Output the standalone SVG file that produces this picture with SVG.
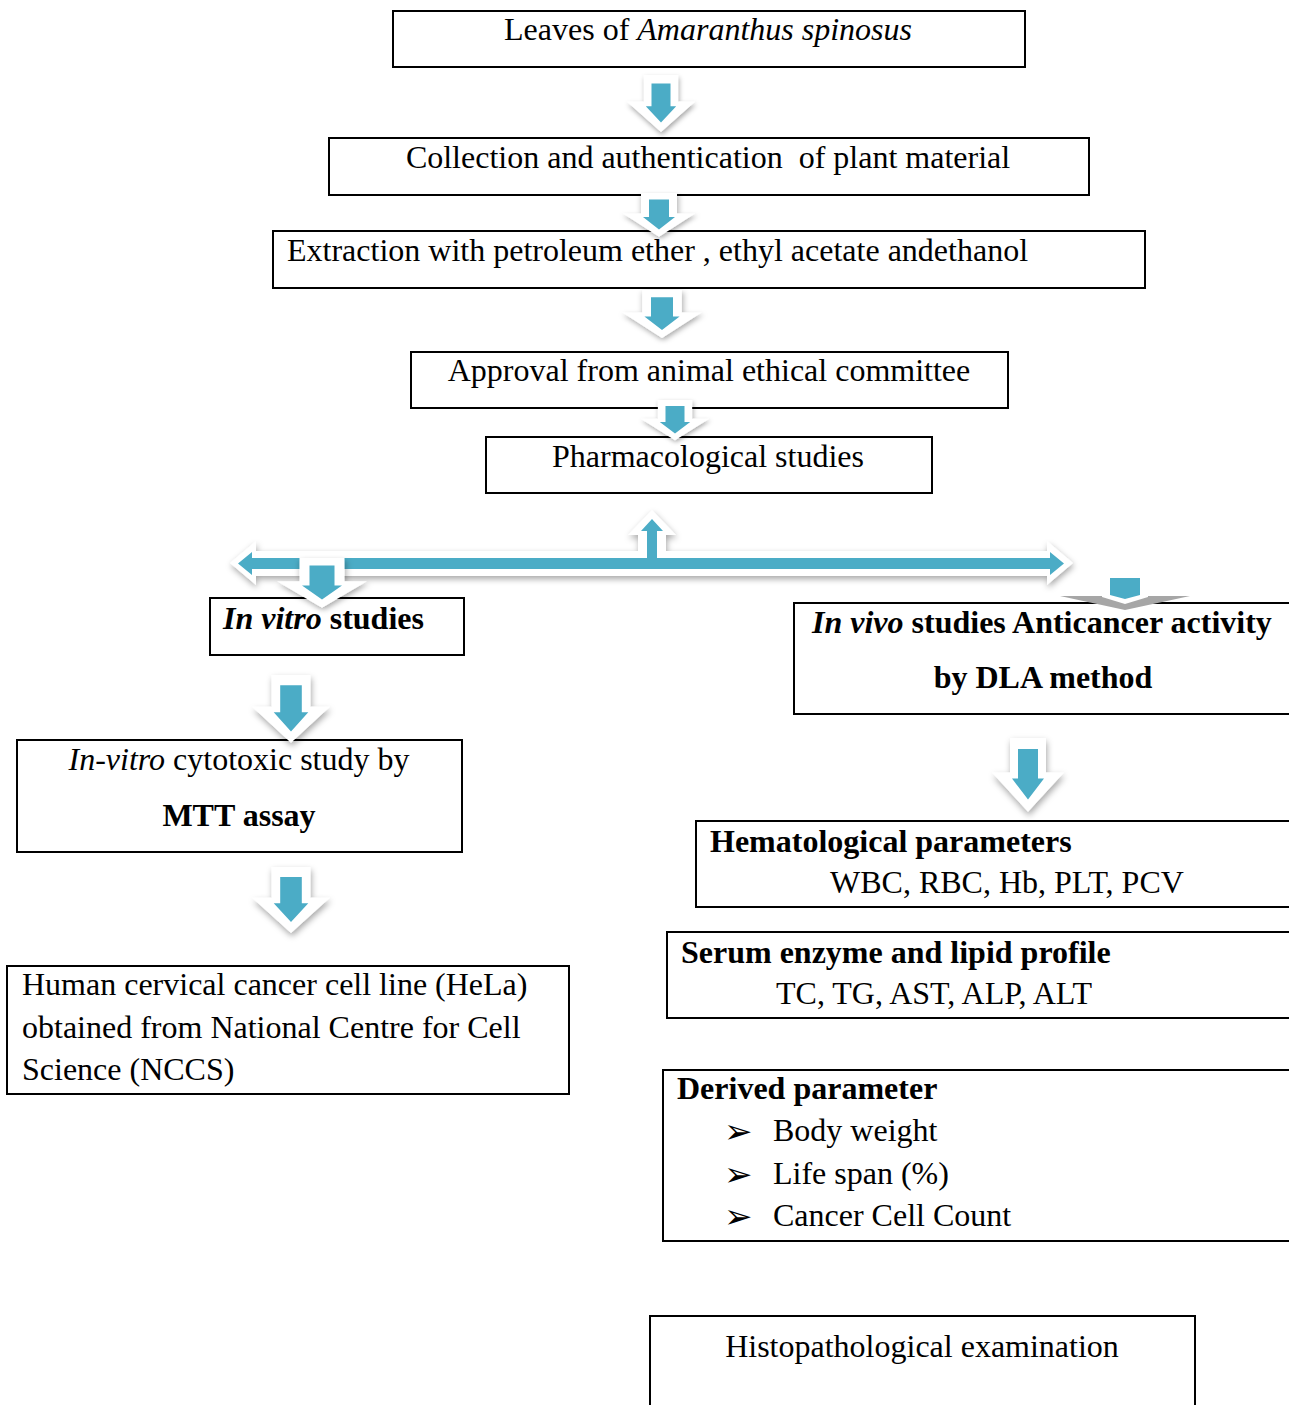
<svg xmlns="http://www.w3.org/2000/svg" width="1289" height="1405" viewBox="0 0 1289 1405">
<style>
.box{fill:#fff;stroke:#000;stroke-width:2}
text{font-family:"Liberation Serif","Times New Roman",serif;font-size:32px;fill:#000}
.b{font-weight:bold}
.i{font-style:italic}
.c{text-anchor:middle}
.bul{font-family:"DejaVu Sans",sans-serif;font-size:34px}
.outer{fill:#fff;filter:url(#sh)}
.inner{fill:#4bacc6}
</style>
<defs>
<filter id="sh" x="-30%" y="-30%" width="160%" height="160%">
<feDropShadow dx="1" dy="3" stdDeviation="3" flood-color="#000" flood-opacity="0.35"/>
</filter>
<g id="arr">
<path class="outer" d="M-18,0 H18 V28 H36 L0,60 L-36,28 H-18 Z"/>
<path class="inner" d="M-10,9 H10 V33 H16 L0,50 L-16,33 H-10 Z"/>
</g>
</defs>
<g id="nodes">
<g id="n1"><rect class="box" x="393" y="11" width="632" height="56"/><text class="c" x="708" y="40">Leaves of <tspan class="i">Amaranthus spinosus</tspan></text></g>
<g id="n2"><rect class="box" x="329" y="138" width="760" height="57"/><text class="c" x="708" y="168" xml:space="preserve">Collection and authentication  of plant material</text></g>
<g id="n3"><rect class="box" x="273" y="231" width="872" height="57"/><text x="287" y="261">Extraction with petroleum ether , ethyl acetate andethanol</text></g>
<g id="n4"><rect class="box" x="411" y="352" width="597" height="56"/><text class="c" x="709" y="381">Approval from animal ethical committee</text></g>
<g id="n5"><rect class="box" x="486" y="437" width="446" height="56"/><text class="c" x="708" y="467">Pharmacological studies</text></g>
<g id="n6"><rect class="box" x="210" y="598" width="254" height="57"/><text class="b" x="223" y="629"><tspan class="i">In vitro</tspan> studies</text></g>
<g id="n7"><rect class="box" x="794" y="603" width="510" height="111"/><text class="b" x="812" y="633"><tspan class="i">In vivo</tspan> studies Anticancer activity</text><text class="b c" x="1043" y="688">by DLA method</text></g>
<g id="n8"><rect class="box" x="17" y="740" width="445" height="112"/><text class="c" x="239" y="770"><tspan class="i">In-vitro</tspan> cytotoxic study by</text><text class="b c" x="239" y="826">MTT assay</text></g>
<g id="n9"><rect class="box" x="7" y="966" width="562" height="128"/><text x="22" y="995">Human cervical cancer cell line (HeLa)</text><text x="22" y="1038">obtained from National Centre for Cell</text><text x="22" y="1080">Science (NCCS)</text></g>
<g id="n10"><rect class="box" x="696" y="821" width="608" height="86"/><text class="b" x="710" y="852">Hematological parameters</text><text x="830" y="893">WBC, RBC, Hb, PLT, PCV</text></g>
<g id="n11"><rect class="box" x="667" y="932" width="637" height="86"/><text class="b" x="681" y="963">Serum enzyme and lipid profile</text><text x="776" y="1004">TC, TG, AST, ALP, ALT</text></g>
<g id="n12"><rect class="box" x="663" y="1070" width="641" height="171"/><text class="b" x="677" y="1099">Derived parameter</text>
<text class="bul" x="724" y="1143">➢</text><text x="773" y="1141">Body weight</text>
<text class="bul" x="724" y="1186">➢</text><text x="773" y="1184">Life span (%)</text>
<text class="bul" x="724" y="1228">➢</text><text x="773" y="1226">Cancer Cell Count</text></g>
<g id="n13"><rect class="box" x="650" y="1316" width="545" height="100"/><text class="c" x="922" y="1357">Histopathological examination</text></g>
</g>
<g id="connectors">
<use href="#arr" transform="translate(661,75) scale(0.95)"/>
<use href="#arr" transform="translate(659,193) scale(1,0.73)"/>
<use href="#arr" transform="translate(662,290) scale(1.1,0.8)"/>
<use href="#arr" transform="translate(675,400) scale(0.95,0.67)"/>
<path class="outer" d="M230,563 L256,541 V551 H638 V535 H628 L652,510 L676,535 H666 V551 H1047 V541 L1073,563 L1047,585 V576 H256 V585 Z"/>
<path class="inner" d="M238,563.5 L252,552 V558 H647 V531 H641 L652,519 L663,531 H657 V558 H1050 V552 L1064,563.5 L1050,575 V569 H252 V575 Z"/>
<use href="#arr" transform="translate(322,558) scale(1.25,0.83)"/>
<g id="arrow7">
<path fill="#a6a6a6" d="M1060,596 H1190 L1125,610 Z"/>
<path fill="#fff" d="M1102,573 H1148 V597 L1125,604 L1102,597 Z"/>
<path class="inner" d="M1110,578 H1140 V595 L1125,599 L1110,595 Z"/>
</g>
<use href="#arr" transform="translate(291,675) scale(1.08,1.13)"/>
<use href="#arr" transform="translate(291,867) scale(1.08,1.1)"/>
<use href="#arr" transform="translate(1028,738) scale(1.0,1.23)"/>
</g>
</svg>
